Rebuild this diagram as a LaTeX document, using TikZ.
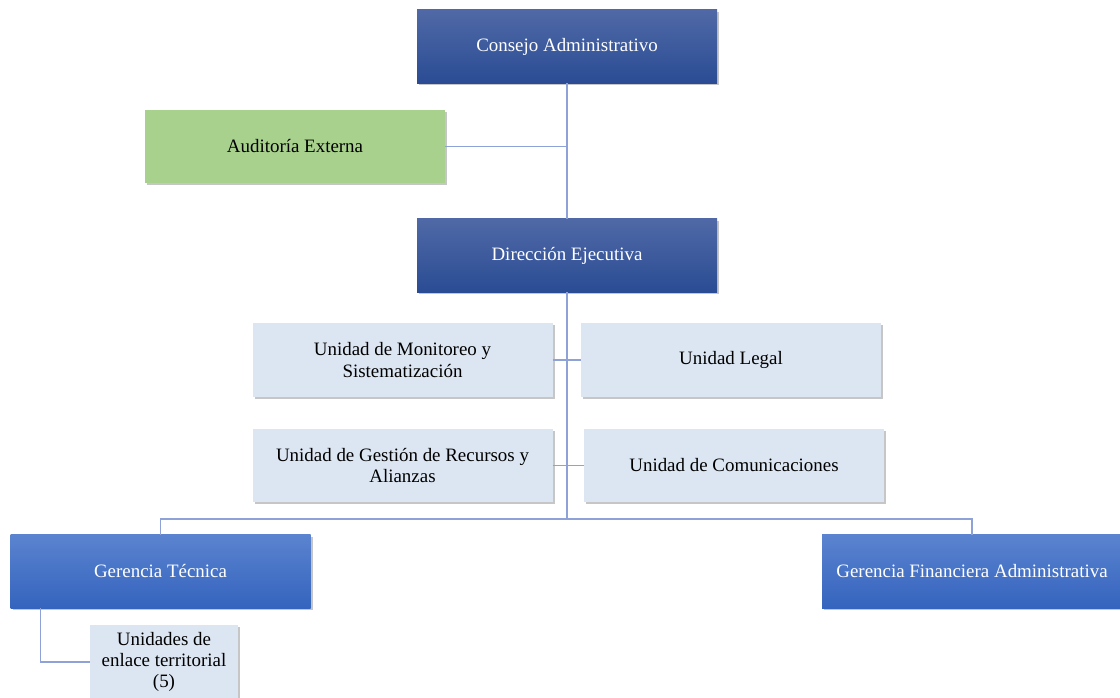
\documentclass[tikz,border=0pt]{standalone}
\usepackage{fontspec}
\setmainfont{Liberation Serif}
\usetikzlibrary{shadows}
\definecolor{azulArriba}{HTML}{5069A6}
\definecolor{azulAbajo}{HTML}{2A4C94}
\definecolor{gerArriba}{HTML}{5B83CF}
\definecolor{gerAbajo}{HTML}{3464BE}
\definecolor{celeste}{HTML}{DCE6F2}
\definecolor{verde}{HTML}{A9D18E}
\definecolor{conector}{HTML}{8FA2D8}
\begin{document}
\begin{tikzpicture}[
    x=0.75pt, y=-0.75pt,
    % Cajas y sombras
    caja/.style={minimum width=225pt, minimum height=55pt, align=center,
        inner sep=2pt, font=\fontsize{14.2}{15.8}\selectfont,
        drop shadow={shadow xshift=1.6pt, shadow yshift=-1.6pt, opacity=0.45}},
    direccion/.style={caja, top color=azulArriba, bottom color=azulAbajo, text=white},
    gerencia/.style={caja, top color=gerArriba, bottom color=gerAbajo, text=white},
    unidad/.style={caja, fill=celeste},
    auditoria/.style={caja, fill=verde},
    linea/.style={draw=conector, line width=0.8pt}
]
\useasboundingbox (0,0) rectangle (1120,698);
% Nivel superior
\node[direccion] (consejo) at (567,46.5) {Consejo Administrativo};
\node[auditoria] (auditoria) at (295,146.5) {Auditoría Externa};
\node[direccion] (ejecutiva) at (567,255.5) {Dirección Ejecutiva};
% Unidades de apoyo
\node[unidad] (monitoreo) at (402.5,360) {Unidad de Monitoreo y\\Sistematización};
\node[unidad] (legal) at (731,360) {Unidad Legal};
\node[unidad] (gestion) at (402.5,465.5) {Unidad de Gestión de Recursos y\\Alianzas};
\node[unidad] (comunic) at (734,465.5) {Unidad de Comunicaciones};
% Gerencias
\node[gerencia] (tecnica) at (160.5,571.5) {Gerencia Técnica};
\node[gerencia] (financiera) at (972,571.5) {Gerencia Financiera Administrativa};
\node[unidad, minimum width=111pt] (enlace) at (164,662) {Unidades de\\enlace territorial\\(5)};
\coordinate (barra) at (567,519);
% Conectores
\draw[linea] (consejo.south) -- (ejecutiva.north);
\draw[linea] (auditoria.east) -- (auditoria.east -| consejo.south);
\draw[linea] (ejecutiva.south) -- (barra);
\draw[linea] (monitoreo.east) -- (legal.west);
\draw[linea] (gestion.east) -- (comunic.west);
\draw[linea] (tecnica.north) |- (barra) -| (financiera.north);
\draw[linea] ([xshift=22.5pt]tecnica.south west) |- (enlace.west);
\end{tikzpicture}
\end{document}
